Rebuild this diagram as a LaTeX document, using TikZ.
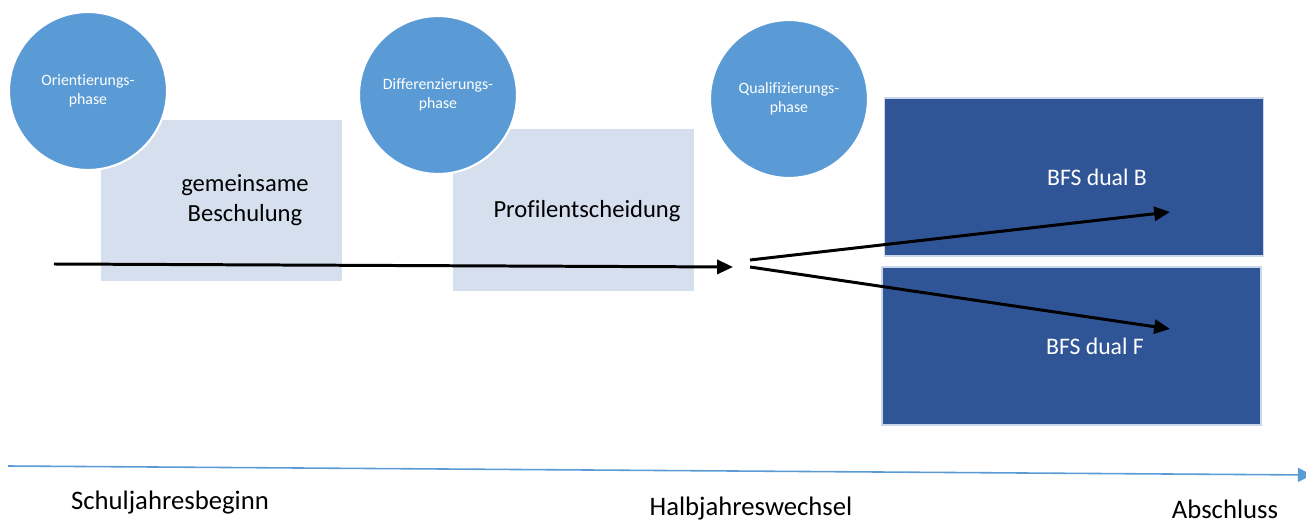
\documentclass[tikz,border=0pt]{standalone}
\usepackage{fontspec}
\setmainfont{Carlito}[Ligatures={NoCommon}, Contextuals={NoAlternate}]
\usetikzlibrary{arrows.meta, positioning}
\definecolor{phaseBlue}{HTML}{5B9BD5}
\definecolor{stepPale}{HTML}{D5DFEE}
\definecolor{exitNavy}{HTML}{2F5597}
\definecolor{exitRim}{HTML}{C9D6EC}

\begin{document}
\begin{tikzpicture}[
  x=0.02cm, y=-0.02cm,
  phase/.style={circle, fill=phaseBlue, draw=white, line width=1.2pt,
                minimum size=3.16cm, inner sep=0pt, align=center,
                font=\fontsize{9}{10.5}\selectfont, text=white},
  stepbox/.style={rectangle, fill=stepPale, draw=none, inner sep=0pt,
                  minimum width=4.82cm, minimum height=3.23cm},
  exitbox/.style={rectangle, fill=exitNavy, draw=exitRim, line width=1pt,
                  inner sep=0pt, minimum width=7.58cm, minimum height=3.16cm},
  lbl/.style={font=\fontsize{14}{17}\selectfont, text=black, align=center, inner sep=0pt},
  tlbl/.style={font=\fontsize{15.2}{18}\selectfont, text=black, inner sep=0pt},
  wlbl/.style={font=\fontsize{13.5}{16}\selectfont, text=white, inner sep=0pt},
  flow/.style={line width=1.7pt, -{Triangle[length=9pt, width=8pt]}},
]
\useasboundingbox (0,0) rectangle (1306,523);

% --- the two pale steps, then the phases on top of them ---
\node[stepbox] (schulung) at (221.5,200.5) {};
\node[stepbox] (profil) at (573.5,210) {};
\node[lbl] (schulungtxt) at (245,200) {gemeinsame\\Beschulung};
\node[lbl] (profiltxt) at (587,211) {Profilentscheidung};

\node[phase] (orient) at (88,91) {Orientierungs-\\phase};
\node[phase] (diff) at (438,95) {Differenzierungs-\\phase};
\node[phase] (quali) at (789,99) {Qualifizierungs-\\phase};

% --- the two exits ---
\node[exitbox] (dualB) at (1074,177) {};
\node[exitbox] (dualF) at (1071.5,346) {};
\node[wlbl] (dualBtxt) at (1097,177) {BFS dual B};
\node[wlbl] (dualFtxt) at (1095,346) {BFS dual F};

% --- the path through the year ---
\coordinate (start) at (54,264);
\coordinate (split) at (733,267);
\coordinate (forkB) at (750,260);
\coordinate (forkF) at (750,267);
\coordinate (tipB) at (1170,212);
\coordinate (tipF) at (1170,329);
\draw[flow] (start) -- (split);
\draw[flow] (forkB) -- (tipB);
\draw[flow] (forkF) -- (tipF);

% --- time line ---
\coordinate (tstart) at (8,466);
\coordinate (tend) at (1312,475);
\draw[draw=phaseBlue, line width=0.9pt, -{Triangle[length=8pt, width=8pt]}] (tstart) -- (tend);
\node[tlbl] (beginn) at (170,503) {Schuljahresbeginn};
\node[tlbl] (halbjahr) at (751,509) {Halbjahreswechsel};
\node[tlbl] (abschluss) at (1225,509) {Abschluss};
\end{tikzpicture}
\end{document}
